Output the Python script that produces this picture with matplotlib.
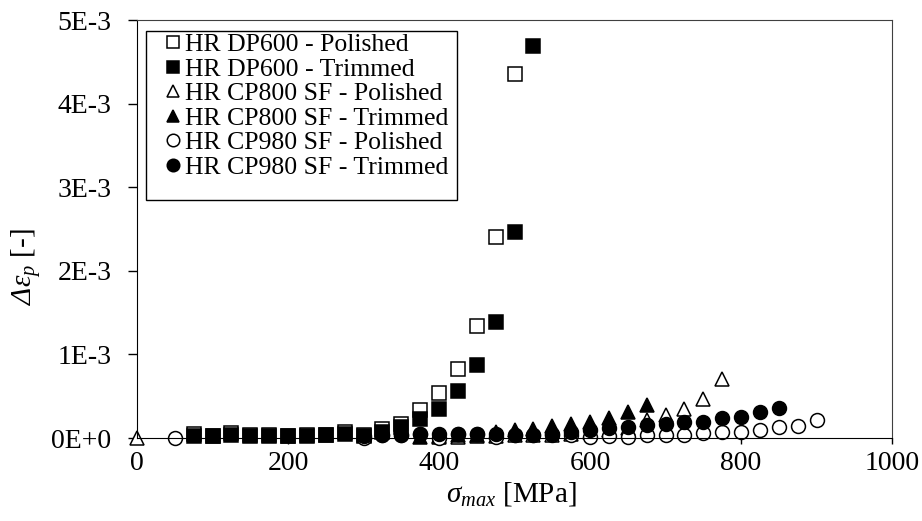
import matplotlib
matplotlib.use("Agg")
import matplotlib.pyplot as plt
from matplotlib.patches import Rectangle
from matplotlib.ticker import FuncFormatter, MultipleLocator

plt.rcParams["font.family"] = ["Liberation Serif", "DejaVu Serif"]
plt.rcParams["mathtext.fontset"] = "custom"
plt.rcParams["mathtext.rm"] = "Liberation Serif"
plt.rcParams["mathtext.it"] = "Liberation Serif:italic"
plt.rcParams["mathtext.bf"] = "Liberation Serif:italic"   # used for the italic capital Delta

# values (stress in MPa, strain in units of 1E-3)
dp600_pol_x = [75, 100, 125, 150, 175, 200, 225, 250, 275, 300, 325, 350, 375, 400, 425, 450, 475, 500]
dp600_pol_y = [0.05, 0.02, 0.06, 0.03, 0.03, 0.02, 0.03, 0.03, 0.07, 0.03, 0.11, 0.17, 0.34, 0.54, 0.83, 1.34, 2.41, 4.35]

dp600_trim_x = [75, 100, 125, 150, 175, 200, 225, 250, 275, 300, 325, 350, 375, 400, 425, 450, 475, 500, 525]
dp600_trim_y = [0.02, 0.02, 0.03, 0.02, 0.02, 0.02, 0.02, 0.03, 0.05, 0.02, 0.07, 0.13, 0.23, 0.35, 0.56, 0.87, 1.39, 2.46, 4.69]

cp800_pol_x = [0, 400, 425, 450, 475, 500, 525, 550, 575, 600, 625, 650, 675, 700, 725, 750, 775]
cp800_pol_y = [0.0, 0.01, 0.01, 0.02, 0.02, 0.03, 0.03, 0.04, 0.05, 0.07, 0.09, 0.12, 0.22, 0.28, 0.35, 0.47, 0.70]

cp800_trim_x = [375, 400, 425, 450, 475, 500, 525, 550, 575, 600, 625, 650, 675]
cp800_trim_y = [0.01, 0.02, 0.03, 0.04, 0.07, 0.09, 0.11, 0.14, 0.17, 0.19, 0.24, 0.31, 0.39]

cp980_pol_x = [50, 300, 325, 350, 375, 400, 425, 450, 475, 500, 525, 550, 575, 600, 625,
               650, 675, 700, 725, 750, 775, 800, 825, 850, 875, 900]
cp980_pol_y = [0.0, 0.0, 0.03, 0.04, 0.05, 0.0, 0.05, 0.05, 0.01, 0.04, 0.04, 0.04, 0.036, 0.016, 0.024,
               0.016, 0.036, 0.036, 0.036, 0.056, 0.075, 0.075, 0.10, 0.13, 0.14, 0.215]

cp980_trim_x = [300, 325, 350, 375, 400, 425, 450, 475, 500, 525, 550, 575, 600, 625,
                650, 675, 700, 725, 750, 775, 800, 825, 850]
cp980_trim_y = [0.02, 0.03, 0.04, 0.05, 0.05, 0.05, 0.05, 0.05, 0.04, 0.04, 0.05, 0.07, 0.10, 0.12,
                0.13, 0.155, 0.17, 0.195, 0.195, 0.235, 0.255, 0.315, 0.355]

series = [
    ("HR DP600 - Polished", dp600_pol_x, dp600_pol_y, "s", False),
    ("HR DP600 - Trimmed", dp600_trim_x, dp600_trim_y, "s", True),
    ("HR CP800 SF - Polished", cp800_pol_x, cp800_pol_y, "^", False),
    ("HR CP800 SF - Trimmed", cp800_trim_x, cp800_trim_y, "^", True),
    ("HR CP980 SF - Polished", cp980_pol_x, cp980_pol_y, "o", False),
    ("HR CP980 SF - Trimmed", cp980_trim_x, cp980_trim_y, "o", True),
]

W, H = 922, 521
fig = plt.figure(figsize=(W / 100, H / 100), dpi=100)
ax = fig.add_axes([137 / W, 1 - 438 / H, 755 / W, 418 / H])

for label, xs, ys, mk, filled in series:
    ax.plot(xs, [v * 1e-3 for v in ys], ls="none", marker=mk, ms=10,
            mfc="black" if filled else "white", mec="black", mew=1.1,
            label=label, clip_on=False)

ax.set_xlim(0, 1000)
ax.set_ylim(0, 5e-3)
ax.xaxis.set_major_locator(MultipleLocator(200))
ax.yaxis.set_major_locator(MultipleLocator(1e-3))
ax.yaxis.set_major_formatter(FuncFormatter(
    lambda v, p: "0E+0" if abs(v) < 1e-9 else f"{round(v * 1e3):d}E-3"))
ax.tick_params(axis="y", direction="out", length=6.5, width=1, pad=12, labelsize=20)
ax.tick_params(axis="x", direction="out", length=4, width=1, pad=5, labelsize=20)

for s in ("left", "bottom"):
    ax.spines[s].set_color("black")
for s in ("top", "right"):
    ax.spines[s].set_color("#404040")

ax.set_xlabel(r"$\sigma_{max}$ [MPa]", fontsize=21, va="top")
ax.xaxis.set_label_coords(0.496, -0.1)
ax.set_ylabel(r"$\mathbf{\Delta}\varepsilon_p$ [-]", fontsize=21)
ax.yaxis.set_label_coords(-0.1245, 0.409)

# legend without its own frame; the box is drawn separately (more room at the sides/bottom)
leg = ax.legend(loc="upper left", bbox_to_anchor=(165 / W, 1 - 33 / H),
                bbox_transform=fig.transFigure, borderaxespad=0, borderpad=0,
                fontsize=18.5, frameon=False, labelspacing=0.06, handlelength=0.6,
                handletextpad=0.16, markerscale=0.9)
fig.canvas.draw()
bb = leg.get_window_extent()
right = bb.x1 + 9
fig.patches.append(Rectangle((146 / W, 1 - 200 / H), right / W - 146 / W, 169 / H,
                             transform=fig.transFigure, fill=False, ec="black", lw=1.0,
                             zorder=5))

fig.savefig("out.png", dpi=100)
